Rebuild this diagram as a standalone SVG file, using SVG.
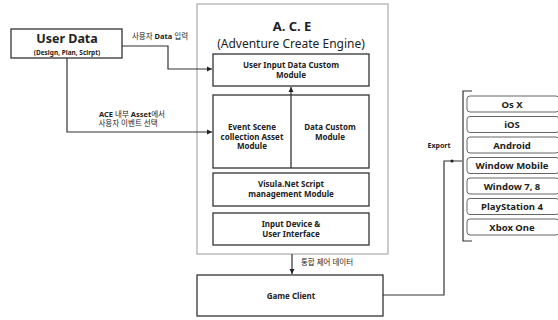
<svg xmlns="http://www.w3.org/2000/svg" width="558" height="320" viewBox="0 0 558 320">
<style>
text{font-family:"Noto Sans","Noto Sans CJK KR",sans-serif;fill:#222;text-anchor:middle}
.b{font-weight:bold}
.box{fill:#fff;stroke:#333;stroke-width:1.3}
.plat{fill:#fff;stroke:#666;stroke-width:1}
.ln{fill:none;stroke:#333;stroke-width:1.2}
.s{font-size:8px;font-weight:bold}
.k{font-size:7.5px}
.p{font-size:9.5px;font-weight:bold}
</style>
<defs>
<marker id="ah" viewBox="0 0 6 6" refX="6" refY="3" markerWidth="4.5" markerHeight="4.5" orient="auto"><path d="M0,0L6,3L0,6z" fill="#222"/></marker>
</defs>
<rect width="558" height="320" fill="#fff"/>
<g id="ace">
<rect x="197" y="4" width="191" height="250" fill="#fff" stroke="#aaa" stroke-width="1.2"/>
<text x="292" y="31" class="b" font-size="13">A. C. E</text>
<text x="291" y="48" font-size="12">(Adventure Create Engine)</text>
</g>
<g id="user-input">
<rect class="box" x="213" y="54" width="156" height="32"/>
<text x="291" y="68" class="s">User Input Data Custom</text>
<text x="291" y="78" class="s">Module</text>
</g>
<g id="event-scene">
<rect class="box" x="213" y="95" width="156" height="73"/>
<line x1="291" y1="95" x2="291" y2="168" stroke="#333" stroke-width="1.3"/>
<text x="252" y="130" class="s">Event Scene</text>
<text x="252" y="139.5" class="s">collection Asset</text>
<text x="252" y="149" class="s">Module</text>
<text x="330" y="130" class="s">Data Custom</text>
<text x="330" y="139.5" class="s">Module</text>
</g>
<g id="visula">
<rect class="box" x="213" y="173" width="156" height="33"/>
<text x="291" y="187" class="s">Visula.Net Script</text>
<text x="291" y="197" class="s">management Module</text>
</g>
<g id="input-device">
<rect class="box" x="213" y="213" width="156" height="32"/>
<text x="291" y="227" class="s">Input Device &amp;</text>
<text x="291" y="237" class="s">User Interface</text>
</g>
<g id="user-data">
<rect class="box" x="11" y="29" width="111" height="29"/>
<text x="67" y="43" class="b" font-size="12.5">User Data</text>
<text x="67" y="55" class="b" font-size="6.5">(Design, Plan, Scirpt)</text>
</g>
<g id="game-client">
<rect class="box" x="197" y="275" width="186" height="41"/>
<text x="291" y="299" class="s">Game Client</text>
</g>
<g id="platforms">
<path class="ln" d="M472,91H463V241H472"/>
<rect class="plat" x="467" y="96" width="92" height="16" rx="3"/>
<text x="512" y="107.5" class="p">Os X</text>
<rect class="plat" x="467" y="116.5" width="92" height="16" rx="3"/>
<text x="512" y="128" class="p">iOS</text>
<rect class="plat" x="467" y="137" width="92" height="16" rx="3"/>
<text x="512" y="148.5" class="p">Android</text>
<rect class="plat" x="467" y="157.5" width="92" height="16" rx="3"/>
<text x="512" y="169" class="p">Window Mobile</text>
<rect class="plat" x="467" y="178" width="92" height="16" rx="3"/>
<text x="512" y="189.5" class="p">Window 7, 8</text>
<rect class="plat" x="467" y="198.5" width="92" height="16" rx="3"/>
<text x="512" y="210" class="p">PlayStation 4</text>
<rect class="plat" x="467" y="219" width="92" height="16" rx="3"/>
<text x="512" y="230.5" class="p">Xbox One</text>
</g>
<g id="connectors">
<path class="ln" d="M122,46H168V69H212" marker-end="url(#ah)"/>
<path class="ln" d="M67,58V132H212" marker-end="url(#ah)"/>
<path class="ln" d="M291,95V87" marker-end="url(#ah)"/>
<path class="ln" d="M292,254V274" marker-end="url(#ah)"/>
<path class="ln" d="M383,295H444V161H462"/>
<circle cx="452" cy="161" r="1.6" fill="#222"/>
<text x="160" y="39" class="k">사용자 <tspan class="b">Data</tspan> 입력</text>
<text x="132" y="117" class="k"><tspan class="b">ACE</tspan> 내부 <tspan class="b">Asset</tspan>에서</text>
<text x="128" y="126" class="k">사용자 이벤트 선택</text>
<text x="327" y="265" class="k">통합 제어 데이터</text>
<text x="439" y="148" class="b" font-size="7">Export</text>
</g>
</svg>
